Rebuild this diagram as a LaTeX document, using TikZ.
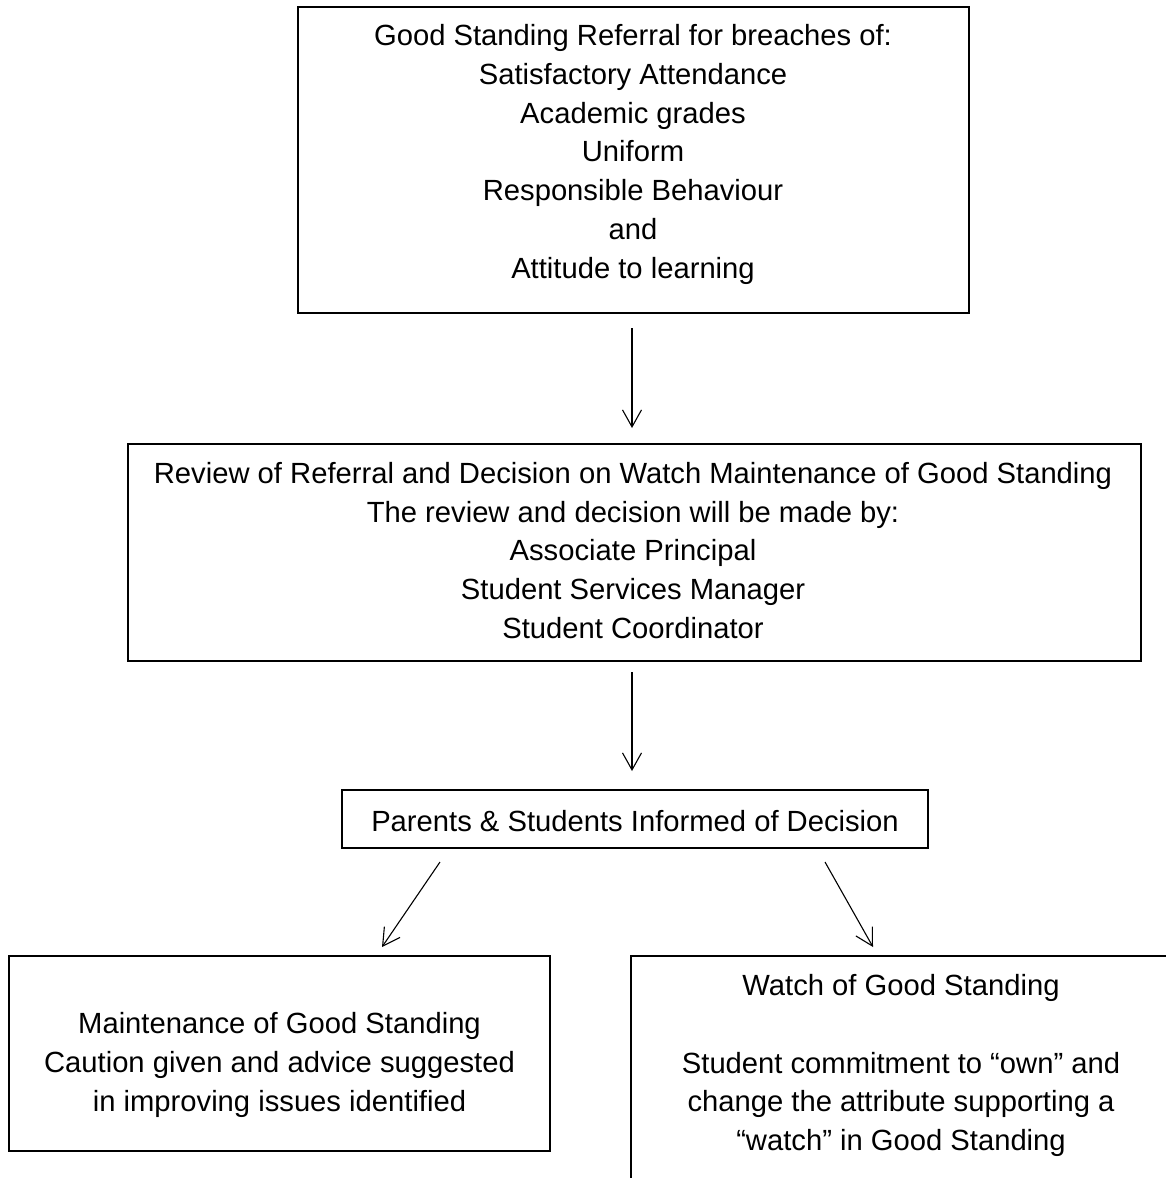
\documentclass[tikz,border=0pt]{standalone}
\usepackage{fontspec}
\setmainfont{Liberation Sans}
\usetikzlibrary{arrows.meta,calc}
\begin{document}
\begin{tikzpicture}[x=1pt,y=-1pt,
  box/.style={draw, line width=1.8pt, inner sep=0pt, outer sep=0pt},
  txt/.style={align=center, inner sep=0pt, font=\fontsize{29.2}{38.8}\selectfont},
  arr/.style={line width=1.1pt, -{Straight Barb[length=17pt,width=19pt]}}]
\clip (0,0) rectangle (1166,1178);
% boxes
\node[box, minimum width=671pt, minimum height=306pt] (b1) at (633.5,160) {};
\node[box, minimum width=1013pt, minimum height=217pt] (b2) at (634.5,552.5) {};
\node[box, minimum width=586pt, minimum height=58pt] (b3) at (635,819) {};
\node[box, minimum width=541pt, minimum height=195pt] (b4) at (279.5,1053.5) {};
\node[box, minimum width=540pt, minimum height=254pt] (b5) at (901,1083) {};
% texts
\node[txt] (t1) at (633,154.4) {Good Standing Referral for breaches of:\\Satisfactory Attendance\\Academic grades\\Uniform\\Responsible Behaviour\\and\\Attitude to learning};
\node[txt] (t2) at (633,550.4) {Review of Referral and Decision on Watch Maintenance of Good Standing\\The review and decision will be made by:\\Associate Principal\\Student Services Manager\\Student Coordinator};
\node[txt, anchor=base] (t3) at (635,831) {Parents \& Students Informed of Decision};
\node[txt] (t4) at (279.5,1064.7) {Maintenance of Good Standing\\Caution given and advice suggested\\in improving issues identified};
\node[txt] (t5) at (901,1065.5) {Watch of Good Standing\\[38.8pt]Student commitment to “own” and\\change the attribute supporting a\\“watch” in Good Standing};
% arrows
\draw[arr] ($(b1.south)+(-1.5,15)$) -- ($(b2.north)+(-2.5,-16)$);
\draw[arr] ($(b2.south)+(-2.5,11)$) -- ($(b3.north)+(-3,-19)$);
\draw[arr] ($(b3.south)+(-195,14)$) -- ($(b4.north)+(102.5,-9)$);
\draw[arr] ($(b3.south)+(190,14)$) -- ($(b5.north)+(-28,-9)$);
\end{tikzpicture}
\end{document}
